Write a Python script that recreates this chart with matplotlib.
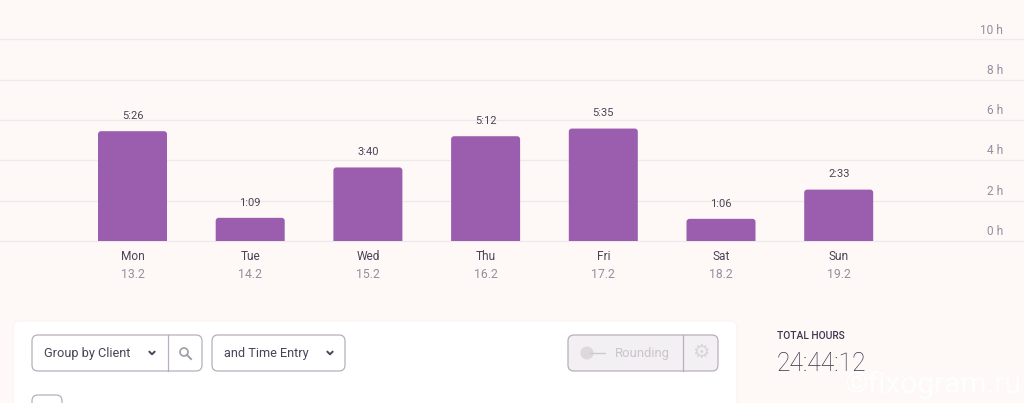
import matplotlib
matplotlib.use("Agg")
import matplotlib.pyplot as plt
from matplotlib.patches import FancyBboxPatch, Circle

plt.rcParams['font.family'] = ['Roboto', 'DejaVu Sans']

days = ['Mon', 'Tue', 'Wed', 'Thu', 'Fri', 'Sat', 'Sun']
dates = ['13.2', '14.2', '15.2', '16.2', '17.2', '18.2', '19.2']
hours = [5.45, 1.15, 3.65, 5.2, 5.58, 1.1, 2.55]
durations = ['5:26', '1:09', '3:40', '5:12', '5:35', '1:06', '2:33']
y_ticks = [0, 2, 4, 6, 8, 10]

W, H = 1024, 403
bg = '#fef8f6'
purple = '#9b5eae'
dark = '#4b4358'
grey = '#968e9f'
border = '#b8afbc'

fig = plt.figure(figsize=(W / 100, H / 100), dpi=100, facecolor=bg)

# chart area, 0 h at y=241 px and 10 h at y=39.5 px
ax = fig.add_axes([0, 1 - 241 / H, 1, (241 - 39.5) / H], facecolor='none')
step = 117.7
ax.set_xlim(-132.5 / step, (W - 132.5) / step)
ax.set_ylim(0, 10)
for s in ax.spines.values():
    s.set_visible(False)
ax.set_xticks([])
ax.set_yticks([])

for t in y_ticks:
    ax.axhline(t, color='#eee9ec', lw=0.9, zorder=1, clip_on=False)
    ax.text(1003 / step - 132.5 / step, t + 0.47, f'{t} h', ha='right', va='center',
            fontsize=8.6, color=grey, clip_on=False)

bar_w = 69 / step
px_h = 20.15
for i, v in enumerate(hours):
    # start below the baseline so only the top corners stay rounded
    p = FancyBboxPatch((i - bar_w / 2, -0.5), bar_w, v + 0.5,
                       boxstyle='round,pad=0,rounding_size=%f' % (3 / step),
                       mutation_aspect=step / px_h, fc=purple, ec='none', zorder=2)
    ax.add_patch(p)
    ax.text(i, v + 0.76, durations[i], ha='center', va='center', fontsize=8.0,
            color=dark, clip_on=False)
    ax.text(i, -0.76, days[i], ha='center', va='center', fontsize=8.6,
            color=dark, clip_on=False)
    ax.text(i, -1.64, dates[i], ha='center', va='center', fontsize=8.8,
            color=grey, clip_on=False)

# page controls below the chart, in pixel coordinates
ui = fig.add_axes([0, 0, 1, 1], facecolor='none')
ui.set_xlim(0, W)
ui.set_ylim(H, 0)
ui.axis('off')


def box(x0, y0, x1, y1, fc='white', ec=border, r=6, lw=0.9, z=3):
    ui.add_patch(FancyBboxPatch((x0, y0), x1 - x0, y1 - y0,
                                boxstyle='round,pad=0,rounding_size=%d' % r,
                                fc=fc, ec=ec, lw=lw, zorder=z))


def chevron(x, y):
    ui.plot([x - 2.5, x, x + 2.5], [y - 1.2, y + 1.3, y - 1.2], color=dark, lw=1.4, zorder=5)


box(13, 321, 737, 440, ec='#fbf4f2', r=7, lw=1.0)

box(32, 335, 202, 371)
ui.plot([168, 168], [335, 371], color=border, lw=0.9, zorder=4)
ui.text(44, 353, 'Group by Client', va='center', fontsize=9.2, color=dark, zorder=5)
chevron(152, 353)
ui.add_patch(Circle((184, 352), 4, fc='none', ec='#a39ba6', lw=1.2, zorder=5))
ui.plot([187, 191], [355, 359], color='#a39ba6', lw=1.4, zorder=5)

box(212, 335, 345, 371)
ui.text(224, 353, 'and Time Entry', va='center', fontsize=9.2, color=dark, zorder=5)
chevron(330, 353)

box(568, 335, 718, 371, fc='#f3f0f3')
ui.plot([683, 683], [335, 371], color=border, lw=0.9, zorder=4)
ui.add_patch(Circle((587, 353), 6.5, fc='#dcd8dc', ec='none', zorder=5))
ui.plot([590, 605], [353, 353], color='#cfcacf', lw=1, zorder=5)
ui.text(615, 353, 'Rounding', va='center', fontsize=9.4, color='#c9c4ca', zorder=5)
ui.text(700.5, 353, '\u2699', ha='center', va='center', fontsize=14, color='#d8d4d8',
        family='DejaVu Sans', zorder=5)

box(32, 395, 62, 430)

ui.text(777, 336, 'TOTAL HOURS', va='center', fontsize=7.4, fontweight='medium',
        color='#3f3650', zorder=5)
ui.text(777, 364, '24:44:12', va='center', fontsize=17.8, fontweight='light',
        color='#3a3148', zorder=5)
ui.text(1022, 385, '\u00a9fixogram.ru', ha='right', va='center', fontsize=21.5,
        color='white', alpha=0.9, zorder=6)

fig.savefig('out.png', dpi=100, facecolor=bg)
